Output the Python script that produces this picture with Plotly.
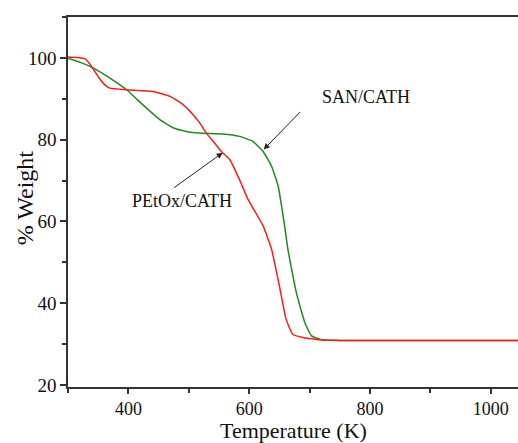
import plotly.graph_objects as go

# SAN/CATH (green)
san_T = [300, 320, 342, 370, 397, 424, 452, 474, 496, 518, 557, 584, 606, 623, 637, 648, 659, 664, 678, 692, 703, 722, 750, 900, 1050]
san_W = [99.9, 98.9, 97.5, 95.0, 92.2, 88.5, 84.9, 82.9, 82.0, 81.6, 81.4, 80.8, 79.6, 77.1, 73.5, 68.6, 58.5, 53.2, 42.6, 35.3, 32.0, 31.0, 30.9, 30.9, 30.9]

# PEtOx/CATH (red)
pet_T = [300, 315, 328, 339, 350, 361, 369, 397, 441, 469, 491, 507, 518, 529, 542, 554, 568, 584, 598, 623, 637, 650, 661, 672, 689, 722, 750, 900, 1050]
pet_W = [100.2, 100.1, 99.8, 97.9, 95.4, 93.4, 92.6, 92.2, 91.8, 90.6, 88.5, 86.1, 84.1, 81.6, 79.3, 77.1, 75.1, 70.2, 65.4, 58.9, 53.2, 44.2, 36.1, 32.4, 31.6, 31.0, 30.9, 30.9, 30.9]

x_ticks = [400, 600, 800, 1000]
y_ticks = [20, 40, 60, 80, 100]

FONT = "Liberation Serif"

fig = go.Figure()
fig.add_trace(go.Scatter(x=san_T, y=san_W, mode="lines", line=dict(color="#1e8c1e", width=1.5, shape="spline", smoothing=0.4), name="SAN/CATH"))
fig.add_trace(go.Scatter(x=pet_T, y=pet_W, mode="lines", line=dict(color="#ff1a1a", width=1.5, shape="spline", smoothing=0.4), name="PEtOx/CATH"))

fig.update_layout(
    width=518, height=443,
    margin=dict(l=68, r=0, t=17, b=56),
    paper_bgcolor="white", plot_bgcolor="white",
    showlegend=False,
    font=dict(family=FONT, color="#111"),
)
fig.update_xaxes(
    range=[300, 1045], tickvals=x_ticks, ticks="outside", ticklen=5, tickwidth=1.5, tickcolor="#333",
    showline=True, linecolor="#333", linewidth=1.5, mirror=True, showgrid=False, zeroline=False,
    minor=dict(dtick=100, tick0=300, ticks="outside", ticklen=4, tickwidth=1.5, tickcolor="#333"),
    tickfont=dict(size=18, family=FONT),
)
fig.update_yaxes(
    range=[19.5, 110], tickvals=y_ticks, ticks="outside", ticklen=6, tickwidth=1.5, tickcolor="#333",
    showline=True, linecolor="#333", linewidth=1.5, showgrid=False, zeroline=False,
    minor=dict(dtick=10, tick0=0, ticks="outside", ticklen=4, tickwidth=1.5, tickcolor="#333"),
    tickfont=dict(size=19, family=FONT),
)

# axis titles
fig.add_annotation(xref="paper", yref="paper", x=0.5, y=0, yshift=-57, xanchor="center", yanchor="bottom",
                   text="Temperature (K)", showarrow=False, borderpad=0, font=dict(size=22, family=FONT, color="#111"))
fig.add_annotation(xref="paper", yref="paper", x=0, xshift=-43, y=0.51, xanchor="center", yanchor="middle",
                   text="% Weight", textangle=-90, showarrow=False, font=dict(size=24, family=FONT, color="#111"))

fig.add_annotation(x=624, y=77.6, ax=38, ay=-39, showarrow=True, arrowhead=2, arrowsize=1.2, arrowwidth=1, arrowcolor="#222", text="")
fig.add_annotation(x=794, y=90.5, text="SAN/CATH", showarrow=False, font=dict(size=18, family=FONT, color="#111"))
fig.add_annotation(x=556, y=76.8, ax=-50, ay=36, showarrow=True, arrowhead=2, arrowsize=1.2, arrowwidth=1, arrowcolor="#222", text="")
fig.add_annotation(x=488, y=64.9, text="PEtOx/CATH", showarrow=False, font=dict(size=18, family=FONT, color="#111"))

fig.write_html("out.html")
